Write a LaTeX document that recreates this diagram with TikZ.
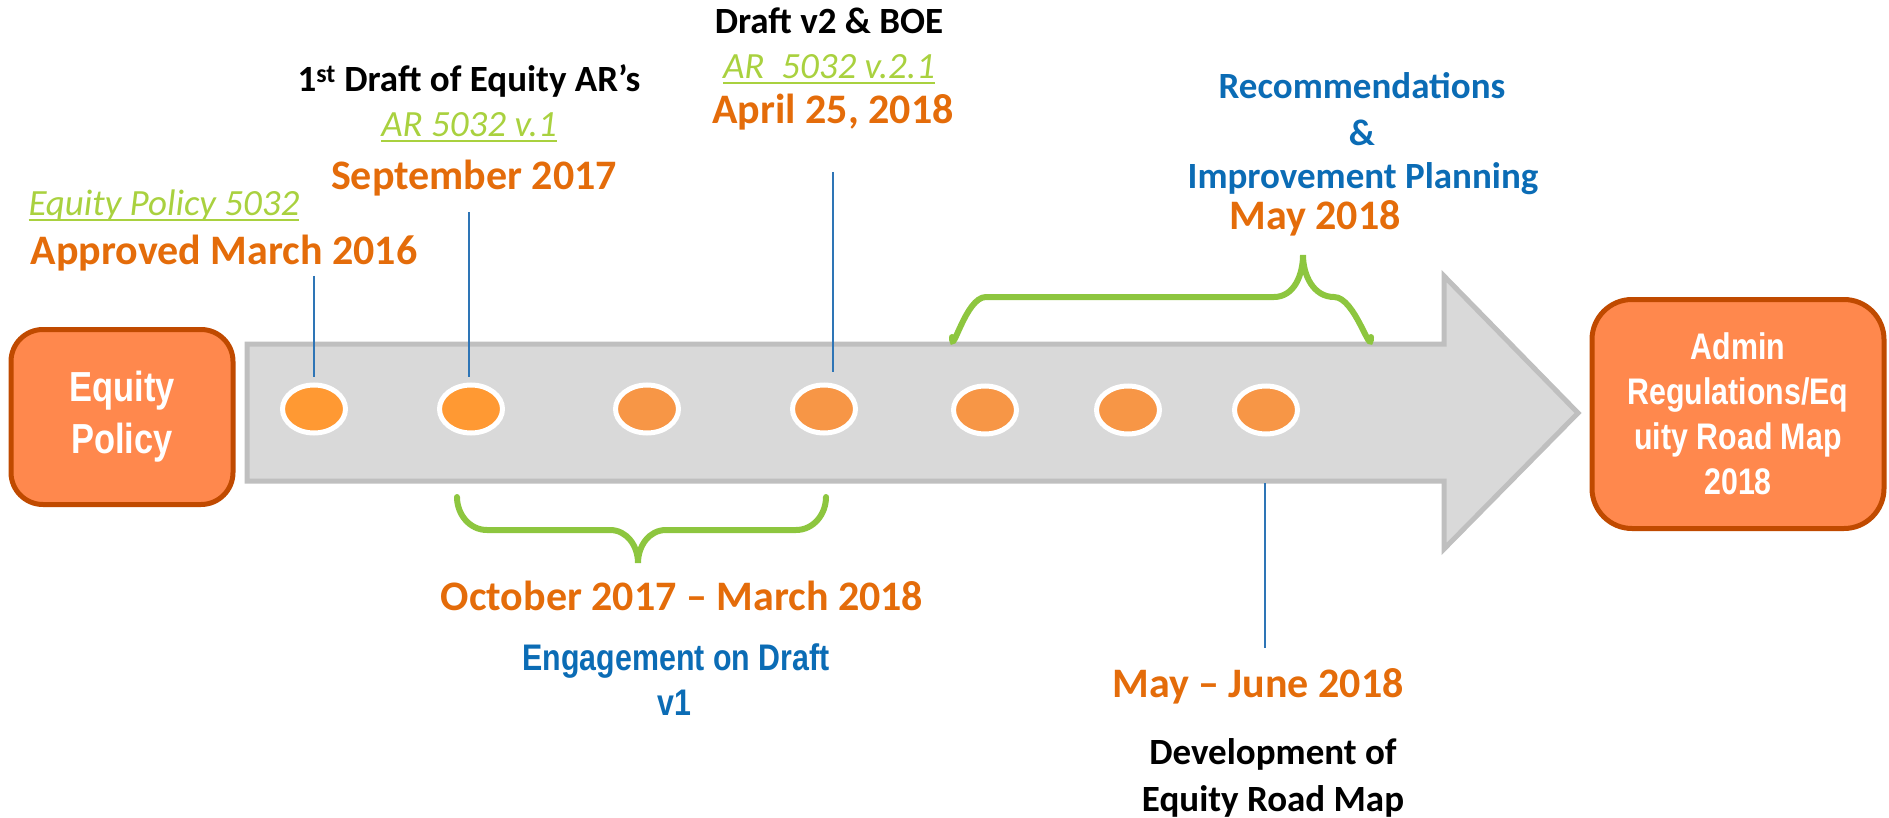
\documentclass[tikz,border=0pt]{standalone}
\usepackage{fontspec}
\setmainfont{Carlito}
\newfontfamily\narrowfont[FakeStretch=0.82]{Liberation Sans}
\usetikzlibrary{shapes.geometric}
\definecolor{orT}{HTML}{E46C0A}
\definecolor{grT}{HTML}{A9D13F}
\definecolor{blT}{HTML}{0B6CB5}
\definecolor{braceC}{HTML}{8DC63F}
\definecolor{boxF}{HTML}{FF884D}
\definecolor{boxB}{HTML}{C04A00}
\definecolor{circA}{HTML}{FF9933}
\definecolor{circB}{HTML}{F79646}
\definecolor{lineB}{HTML}{2E75B6}
\definecolor{arrF}{HTML}{D9D9D9}
\definecolor{arrB}{HTML}{BFBFBF}
\newcommand\myul[1]{\setbox0\hbox{#1}\rlap{\rule[-5.5pt]{\wd0}{2.8pt}}\box0}
\tikzset{
  lbl/.style={anchor=base, inner sep=0pt},
  datebig/.style={lbl, text=orT, font=\bfseries\fontsize{42}{50}\selectfont},
  ref/.style={lbl, text=grT, font=\itshape\fontsize{37}{44}\selectfont},
  blacklbl/.style={lbl, text=black, font=\bfseries\fontsize{37}{44}\selectfont},
  bluelbl/.style={lbl, text=blT, font=\bfseries\fontsize{37}{44}\selectfont},
  narrowblue/.style={lbl, text=blT, font=\narrowfont\bfseries\fontsize{37}{44}\selectfont},
  endbox/.style={draw=boxB, fill=boxF, line width=5pt, rounded corners=32pt, text=white, align=center, inner sep=0pt},
  dotA/.style={ellipse, draw=white, line width=5pt, fill=circA, minimum width=63pt, minimum height=48pt, inner sep=0pt},
  dotB/.style={dotA, fill=circB},
  tick/.style={draw=lineB, line width=2.4pt},
  brace/.style={draw=braceC, line width=6pt, line cap=round},
}
\begin{document}
\begin{tikzpicture}[x=1pt,y=-1pt]
\useasboundingbox (0,0) rectangle (1889,818);
% arrow
\draw[draw=arrB, fill=arrF, line width=5pt]
  (247,344) -- (1444,344) -- (1444,276) -- (1578,413) -- (1444,549) -- (1444,481) -- (247,481) -- cycle;
% end boxes
\node[endbox, minimum width=222pt, minimum height=175pt, font=\narrowfont\bfseries\fontsize{42}{52}\selectfont] (eq) at (122,417) {Equity\\Policy};
\node[endbox, minimum width=292pt, minimum height=229pt, rounded corners=40pt, font=\narrowfont\bfseries\fontsize{37}{45}\selectfont] (admin) at (1738,414) {Admin\\Regulations/Eq\\uity Road Map\\2018};
% dots
\node[dotA] (c1) at (314,409) {};
\node[dotA] (c2) at (471,409) {};
\node[dotB] (c3) at (647,409) {};
\node[dotB] (c4) at (824,409) {};
\node[dotB] (c5) at (985,410) {};
\node[dotB] (c6) at (1128,410) {};
\node[dotB] (c7) at (1266,410) {};
% ticks
\coordinate (t1a) at (314,276); \coordinate (t1b) at (314,377);
\coordinate (t2a) at (469,212); \coordinate (t2b) at (469,377);
\coordinate (t3a) at (833,172); \coordinate (t3b) at (833,372);
\coordinate (t4a) at (1265,483); \coordinate (t4b) at (1265,648);
\draw[tick] (t1a) -- (t1b);
\draw[tick] (t2a) -- (t2b);
\draw[tick] (t3a) -- (t3b);
\draw[tick] (t4a) -- (t4b);
% braces
\coordinate (bl) at (457,497); \coordinate (btip) at (638,563); \coordinate (br) at (826,497);
\draw[brace] (bl) to[out=-90,in=180] (487,530) -- (610,530) to[out=0,in=90] (btip)
  to[out=90,in=180] (666,530) -- (796,530) to[out=0,in=-90] (br);
\coordinate (tl) at (952,337); \coordinate (ttip) at (1303,255); \coordinate (tr) at (1371,337);
\draw[brace] (tl) to[out=-90,in=180] (986,297) -- (1274,297) to[out=0,in=-90] (ttip)
  to[out=-90,in=180] (1334,297) to[out=0,in=-90] (tr);
% labels top-left
\node[ref] (l1a) at (164,216) {\myul{Equity Policy 5032}};
\node[datebig] (l1b) at (224,265) {Approved March 2016};
\node[blacklbl] (l2a) at (469,92) {1\textsuperscript{st} Draft of Equity AR’s};
\node[ref] (l2b) at (469,137) {\myul{AR 5032 v.1}};
\node[datebig] (l2c) at (474,190) {September 2017};
\node[blacklbl] (l3a) at (829,34) {Draft v2 \& BOE};
\node[ref] (l3b) at (829,79) {\myul{AR\ \ 5032 v.2.1}};
\node[datebig] (l3c) at (833,124) {April 25, 2018};
\node[bluelbl] (l4a) at (1362,99) {Recommendations};
\node[bluelbl] (l4b) at (1362,146) {\&};
\node[bluelbl] (l4c) at (1363,189) {Improvement Planning};
\node[datebig] (l4d) at (1315,230) {May 2018};
% labels bottom
\node[datebig] (l5a) at (682,610) {October 2017 – March 2018};
\node[narrowblue] (l5b) at (676,670) {Engagement on Draft};
\node[narrowblue] (l5c) at (674,715) {v1};
\node[datebig] (l6a) at (1258,697) {May – June 2018};
\node[blacklbl] (l6b) at (1273,764) {Development of};
\node[blacklbl] (l6c) at (1273,811) {Equity Road Map};
\end{tikzpicture}
\end{document}
